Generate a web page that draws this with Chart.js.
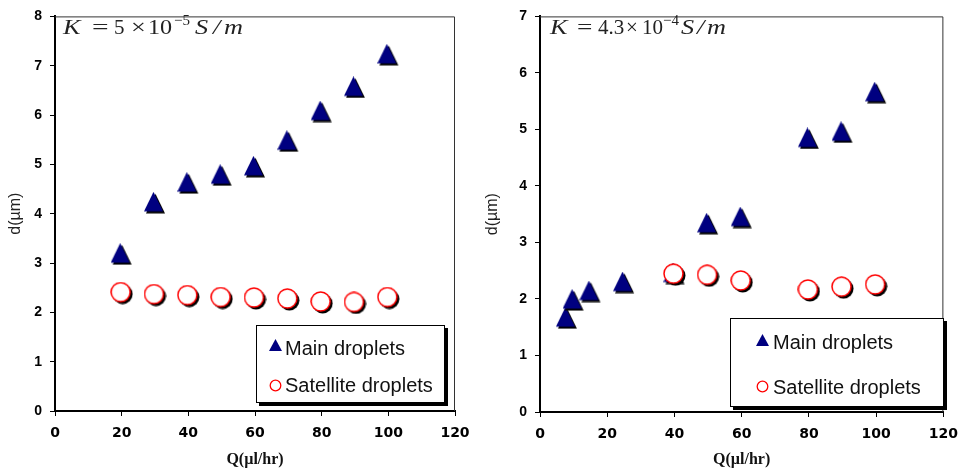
<!DOCTYPE html>
<html>
<head>
<meta charset="utf-8">
<script src="https://cdn.jsdelivr.net/npm/chart.js@4.4.1/dist/chart.umd.min.js"></script>
<style>
  body { margin: 0; background: #fff; width: 967px; height: 472px; position: relative; overflow: hidden; }
  .box { position: absolute; top: 0; height: 472px; }
  .m { position: absolute; top: 17px; font-family: "Liberation Serif", serif; font-size: 21px; line-height: 21px; color: #222; white-space: nowrap; transform-origin: left; }
  .m.w { transform: scaleX(1.25); }
  .m.i { font-style: italic; }
  .m.s { top: 13px; font-size: 15px; line-height: 15px; }
  .legend { position: absolute; background: #fff; border: 1px solid #000; box-shadow: 3px 3px 0 #000; box-sizing: border-box; }
  .ltext { position: absolute; font-family: "Liberation Sans", Arial, sans-serif; font-size: 20px; line-height: 20px; color: #111; white-space: nowrap; }
  .lmark { position: absolute; }
</style>
</head>
<body>

<div class="box" style="left:0;width:480px"><canvas id="chartA" width="480" height="472"></canvas></div>
<div class="box" style="left:480px;width:487px"><canvas id="chartB" width="487" height="472"></canvas></div>

<!-- K = 5 x 10^-5 S/m -->
<span class="m i w" style="left:63px">K</span>
<span class="m" style="left:92px;transform:scaleX(1.4)">=</span>
<span class="m" style="left:114px">5</span>
<span class="m w" style="left:131px">×</span>
<span class="m" style="left:148px;transform:scaleX(1.15)">10</span>
<span class="m s" style="left:174px">−5</span>
<span class="m i w" style="left:195px">S</span>
<span class="m i w" style="left:213px">/</span>
<span class="m i w" style="left:224px">m</span>

<!-- K = 4.3 x 10^-4 S/m -->
<span class="m i w" style="left:550px">K</span>
<span class="m" style="left:577px;transform:scaleX(1.3)">=</span>
<span class="m" style="left:598px">4.3</span>
<span class="m" style="left:626px">×</span>
<span class="m" style="left:642px">10</span>
<span class="m s" style="left:663px">−4</span>
<span class="m i w" style="left:681px">S</span>
<span class="m i w" style="left:697px">/</span>
<span class="m i w" style="left:707px">m</span>

<!-- legends -->
<div class="legend" style="left:256px;top:325px;width:189px;height:78px"></div>
<svg class="lmark" style="left:269px;top:339px" width="13" height="12"><polygon points="6.5,0 0,12 13,12" fill="#000080"/></svg>
<div class="ltext" style="left:285px;top:338px">Main droplets</div>
<svg class="lmark" style="left:269px;top:379px" width="13" height="13"><circle cx="6.5" cy="6.5" r="5.3" fill="#fff" stroke="#ff0000" stroke-width="1.3"/></svg>
<div class="ltext" style="left:285px;top:375px">Satellite droplets</div>

<div class="legend" style="left:730px;top:318px;width:214px;height:89px"></div>
<svg class="lmark" style="left:756px;top:334px" width="13" height="12"><polygon points="6.5,0 0,12 13,12" fill="#000080"/></svg>
<div class="ltext" style="left:773px;top:332px">Main droplets</div>
<svg class="lmark" style="left:756px;top:380px" width="13" height="13"><circle cx="6.5" cy="6.5" r="5.3" fill="#fff" stroke="#ff0000" stroke-width="1.3"/></svg>
<div class="ltext" style="left:773px;top:377px">Satellite droplets</div>

<script>
// left panel, K = 5e-5 S/m
const qMainA = [20, 30, 40, 50, 60, 70, 80, 90, 100];
const dMainA = [3.18, 4.22, 4.62, 4.78, 4.95, 5.47, 6.07, 6.56, 7.22];
const qSatA = [20, 30, 40, 50, 60, 70, 80, 90, 100];
const dSatA = [2.39, 2.35, 2.33, 2.29, 2.28, 2.26, 2.20, 2.19, 2.29];

// right panel, K = 4.3e-4 S/m
const qMainB = [8, 10, 15, 25, 40, 50, 60, 80, 90, 100];
const dMainB = [1.66, 1.98, 2.13, 2.29, 2.45, 3.33, 3.44, 4.84, 4.95, 5.65];
const qSatB = [40, 50, 60, 80, 90, 100];
const dSatB = [2.43, 2.41, 2.31, 2.15, 2.20, 2.24];

const xTicks = [0, 20, 40, 60, 80, 100, 120];

// marker images with the hard black drop shadow
function triangleMarker(){
    const c = document.createElement("canvas");
    c.width = 22; c.height = 22;
    const g = c.getContext("2d");
    g.fillStyle = "#000";
    g.beginPath(); g.moveTo(11.5, 2); g.lineTo(2, 21.5); g.lineTo(21, 21.5); g.closePath(); g.fill();
    g.fillStyle = "#000080";
    g.beginPath(); g.moveTo(9.5, 0); g.lineTo(0, 19.5); g.lineTo(19, 19.5); g.closePath(); g.fill();
    return c;
}

function circleMarker(){
    const c = document.createElement("canvas");
    c.width = 23; c.height = 23;
    const g = c.getContext("2d");
    g.fillStyle = "#000";
    g.beginPath(); g.arc(12.5, 12.5, 10, 0, Math.PI * 2); g.fill();
    g.fillStyle = "#fff";
    g.strokeStyle = "#ff0000";
    g.lineWidth = 1.5;
    g.beginPath(); g.arc(10.5, 10.5, 9.5, 0, Math.PI * 2); g.fill(); g.stroke();
    return c;
}

const tri = triangleMarker();
const circ = circleMarker();

function pts(xs, ys){
    return xs.map((x, i) => ({ x: x, y: ys[i] }));
}

// thin frame on the top and right of the plot
const framePlugin = {
    id: "frame",
    beforeDatasetsDraw(chart){
        const a = chart.chartArea;
        const ctx = chart.ctx;
        ctx.save();
        ctx.strokeStyle = "#333";
        ctx.lineWidth = 1;
        ctx.beginPath();
        ctx.moveTo(a.left, a.top + 0.5);
        ctx.lineTo(a.right - 0.5, a.top + 0.5);
        ctx.lineTo(a.right - 0.5, a.bottom);
        ctx.stroke();
        ctx.restore();
    }
};

function makeChart(id, mainPts, satPts, yMax, opts){
    return new Chart(document.getElementById(id), {
        type: "scatter",
        data: {
            datasets: [
                { label: "Satellite droplets", data: satPts, pointStyle: circ, order: 0 },
                { label: "Main droplets", data: mainPts, pointStyle: tri, order: 1 }
            ]
        },
        options: {
            responsive: false,
            animation: false,
            layout: { padding: { left: 0, top: 9, right: opts.right, bottom: 0 } },
            plugins: { legend: { display: false }, tooltip: { enabled: false } },
            scales: {
                x: {
                    type: "linear", min: 0, max: 120,
                    afterBuildTicks: s => { s.ticks = xTicks.map(v => ({ value: v })); },
                    afterFit: s => { s.height = opts.xh; },
                    grid: { drawOnChartArea: false, tickLength: 5, color: "#000", lineWidth: 1 },
                    border: { color: "#000", width: 2 },
                    ticks: { color: "#000", padding: 9, font: { family: "DejaVu Sans", size: 14, weight: "bold" } },
                    title: { display: true, text: "Q(µl/hr)", color: "#111", padding: { top: 0, bottom: 3 },
                             font: { family: "Liberation Serif", size: 16, weight: "bold" } }
                },
                y: {
                    type: "linear", min: 0, max: yMax,
                    ticks: { stepSize: 1, color: "#000", padding: 8, font: { family: "Liberation Sans", size: 14, weight: "bold" } },
                    afterFit: s => { s.width = opts.yw; },
                    grid: { drawOnChartArea: false, tickLength: 5, color: "#000", lineWidth: 1 },
                    border: { color: "#000", width: 2 },
                    title: { display: true, text: "d(µm)", color: "#222", padding: { top: opts.ytp, bottom: 0 },
                             font: { family: "Liberation Sans", size: 16 } }
                }
            }
        },
        plugins: [framePlugin]
    });
}

makeChart("chartA", pts(qMainA, dMainA), pts(qSatA, dSatA), 8, { right: 25, xh: 61, yw: 55, ytp: 6 });
makeChart("chartB", pts(qMainB, dMainB), pts(qSatB, dSatB), 7, { right: 16, xh: 60, yw: 60, ytp: 3 });
</script>
</body>
</html>
